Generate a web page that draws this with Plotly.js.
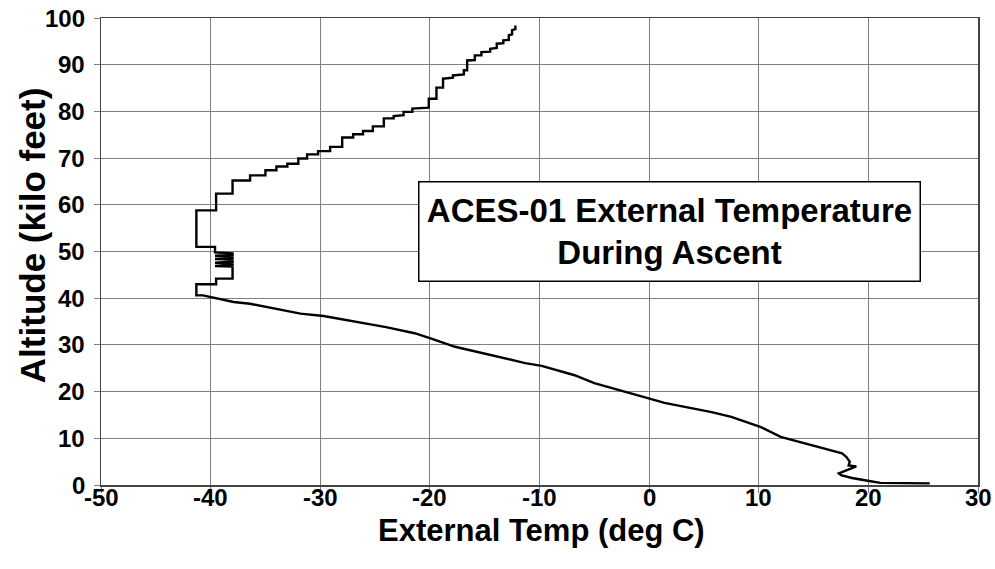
<!DOCTYPE html>
<html>
<head>
<meta charset="utf-8">
<script src="https://cdn.plot.ly/plotly-3.0.1.min.js"></script>
<style>html,body{margin:0;padding:0;background:#fff;}#chart{width:995px;height:569px;}</style>
</head>
<body>
<div id="chart"></div>
<script>
// External temperature (deg C) and altitude (kilo feet), in ascent order
const tempC = [
  25.6, 21.1, 20.2, 18.5, 17.5, 17.3, 18.9, 18.2, 18.3, 18.0, 17.6, 16.8, 15.4, 12.9, 12.0, 10.2,
  7.5, 5.7, 3.6, 1.4, 0.2, -2.1, -5.0, -6.8, -9.8, -11.3, -13.7, -15.5, -17.7, -19.8, -21.4, -24.0,
  -27.7, -29.7, -31.8, -36.4, -37.9, -39.4, -40.7, -41.3, -41.3, -39.5, -39.5, -38.0, -38.0,
  -39.6, -38.0, -38.0, -39.6, -38.0, -38.0, -39.6, -38.0, -38.0, -39.6, -38.0, -38.0, -39.6, -39.6,
  -41.3, -41.3, -39.5, -39.5, -38.0, -38.0, -36.4, -36.4, -35.0, -35.0, -34.0, -34.0, -33.0, -33.0,
  -32.0, -32.0, -31.2, -31.2, -30.2, -30.2, -29.1, -29.1, -28.0, -28.0, -27.0, -27.0, -26.1, -26.1,
  -25.2, -25.2, -24.2, -24.2, -23.3, -23.3, -22.4, -22.4, -21.6, -21.6, -20.1, -20.1, -19.4, -19.4,
  -18.8, -18.8, -17.9, -17.9, -16.9, -16.9, -16.6, -16.6, -15.9, -15.9, -15.3, -15.3, -14.5, -14.5,
  -13.9, -13.9, -13.3, -13.3, -12.8, -12.8, -12.5, -12.5, -12.2, -12.2
];
const altKft = [
  0.35, 0.45, 0.8, 1.5, 2.1, 2.5, 4.0, 4.2, 5.0, 6.0, 6.8, 7.3, 8.1, 9.6, 10.3, 12.4,
  14.6, 15.6, 16.5, 17.6, 18.4, 19.9, 21.8, 23.5, 25.5, 26.1, 27.4, 28.5, 29.6, 31.3, 32.5, 33.8,
  35.3, 36.2, 36.7, 38.8, 39.2, 39.9, 40.6, 40.6, 43.0, 43.0, 44.2, 44.2, 46.8,
  46.9, 47.1, 47.5, 47.6, 47.8, 48.3, 48.4, 48.6, 49.0, 49.1, 49.3, 49.6, 49.8, 51.0,
  51.0, 58.8, 58.8, 62.4, 62.4, 65.2, 65.2, 66.3, 66.3, 67.4, 67.4, 68.2, 68.2, 68.8,
  68.8, 69.9, 69.9, 70.8, 70.8, 71.5, 71.5, 72.4, 72.4, 74.4, 74.4, 75.1, 75.1, 75.8,
  75.8, 76.8, 76.8, 78.5, 78.5, 79.0, 79.2, 79.9, 79.9, 80.6, 80.8, 82.7, 82.7, 85.1,
  85.1, 87.0, 87.2, 87.7, 87.9, 88.8, 88.8, 90.9, 91.0, 92.0, 92.0, 92.7, 92.8, 93.4,
  93.6, 94.5, 94.6, 95.2, 95.3, 96.3, 96.5, 97.4, 97.6, 98.4
];
const xTicks = [-50, -40, -30, -20, -10, 0, 10, 20, 30];
const yTicks = [0, 10, 20, 30, 40, 50, 60, 70, 80, 90, 100];
const chartTitle = "ACES-01 External Temperature<br>During Ascent";
const xTitle = "External Temp (deg C)";
const yTitle = "Altitude (kilo feet)";

const fontFam = "Liberation Sans, Arial, Helvetica, sans-serif";
const tickFont = {family: fontFam, size: 24, color: "#000", weight: "bold"};

const trace = {
  x: tempC, y: altKft, type: "scatter", mode: "lines",
  line: {color: "#000", width: 2.4}, hoverinfo: "skip"
};

const axisCommon = {
  showline: true, mirror: true, linecolor: "#444", linewidth: 1.5,
  showgrid: true, gridcolor: "#808080", gridwidth: 1,
  zeroline: false, ticks: "outside", ticklen: 6, tickcolor: "#808080", tickwidth: 1,
  showticklabels: false
};

// tick labels placed through the axis scales, close to the axes
const xTickLabels = xTicks.map(v => ({
  x: v, y: 0, xref: "x", yref: "paper", text: String(v), showarrow: false,
  yanchor: "middle", xanchor: "center", yshift: -12, font: tickFont
}));
const yTickLabels = yTicks.map(v => ({
  x: 0, y: v, xref: "paper", yref: "y", text: String(v), showarrow: false,
  yanchor: "middle", xanchor: "right", xshift: -14, font: tickFont
}));

const layout = {
  width: 995, height: 569,
  margin: {l: 101, r: 17, t: 18, b: 84, pad: 0},
  paper_bgcolor: "#fff", plot_bgcolor: "#fff",
  showlegend: false,
  xaxis: Object.assign({}, axisCommon, {range: [-50, 30], tickvals: xTicks}),
  yaxis: Object.assign({}, axisCommon, {range: [0, 100], tickvals: yTicks}),
  annotations: xTickLabels.concat(yTickLabels, [
    {
      x: 0.5, y: 0, xref: "paper", yref: "paper", text: xTitle, showarrow: false,
      yanchor: "middle", xanchor: "center", yshift: -45, xshift: 2,
      font: {family: fontFam, size: 31, color: "#000", weight: "bold"}
    },
    {
      x: 0, y: 0.535, xref: "paper", yref: "paper", text: yTitle, showarrow: false,
      textangle: -90, yanchor: "middle", xanchor: "center", xshift: -69,
      font: {family: fontFam, size: 35, color: "#000", weight: "bold"}
    },
    {
      x: 1.9, y: 54.2, xref: "x", yref: "y", text: chartTitle, showarrow: false,
      font: {family: fontFam, size: 33, color: "#000", weight: "bold"},
      bgcolor: "#fff", bordercolor: "#000", borderwidth: 1.5, borderpad: 0,
      width: 500, height: 98, align: "center", valign: "middle"
    }
  ])
};

Plotly.newPlot("chart", [trace], layout, {displayModeBar: false, staticPlot: true});
</script>
</body>
</html>
